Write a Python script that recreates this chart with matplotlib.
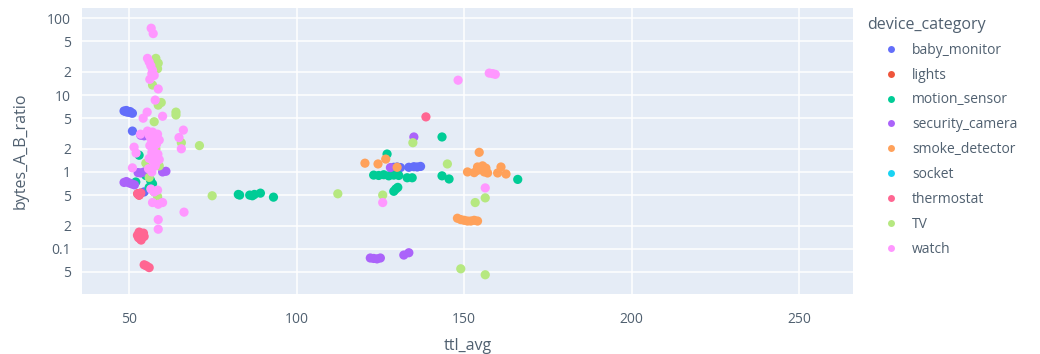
import numpy as np
import matplotlib.pyplot as plt
from matplotlib.lines import Line2D

# puntos (ttl_avg, bytes_A_B_ratio)
categorias = ['baby_monitor', 'lights', 'motion_sensor', 'security_camera',
              'smoke_detector', 'socket', 'thermostat', 'TV', 'watch']
colores = ['#636efa', '#EF553B', '#00cc96', '#ab63fa', '#FFA15A',
           '#19d3f3', '#FF6692', '#B6E880', '#FF97FF']

baby_x = [48.5, 49.0, 49.5, 50.0, 50.5, 51.0, 49.2, 50.3, 51.0, 54.5, 55.5, 56.0,
          129.0, 130.0, 131.0, 133.5, 135.0, 136.0, 137.0]
baby_y = [6.2, 6.1, 6.0, 6.0, 5.9, 5.8, 6.3, 6.1, 3.4, 0.55, 0.9, 1.0,
          1.15, 1.16, 1.14, 1.15, 1.17, 1.16, 1.18]

lights_x = [52.6, 53.0, 53.4]
lights_y = [0.52, 0.5, 0.53]

motion_x = [82.6, 83.0, 86.0, 86.8, 87.4, 89.2, 93.1,
            127.0, 123.0, 124.5, 126.0, 127.5, 129.0, 130.5, 133.0, 134.5,
            129.6, 129.0, 130.2, 143.4, 143.4, 145.5, 166.0,
            53.0, 52.0, 55.0, 55.8, 56.4, 57.0, 56.0, 58.7]
motion_y = [0.51, 0.5, 0.5, 0.49, 0.51, 0.53, 0.47,
            1.71, 0.91, 0.9, 0.92, 0.89, 0.91, 0.9, 0.84, 0.84,
            0.6, 0.56, 0.63, 2.85, 0.89, 0.81, 0.8,
            1.65, 0.74, 0.9, 1.05, 0.78, 0.7, 0.63, 0.43]

camera_x = [48.5, 49.2, 50.0, 50.8, 51.6, 52.7, 53.5, 54.5, 60.0, 61.0,
            53.5, 54.5, 122.0, 123.0, 124.0, 125.0, 132.0, 133.5, 135.0, 128.0]
camera_y = [0.73, 0.75, 0.72, 0.7, 0.68, 0.98, 0.97, 1.0, 1.0, 1.02,
            3.0, 2.95, 0.076, 0.075, 0.074, 0.076, 0.083, 0.089, 2.85, 1.14]

smoke_x = [120.4, 124.3, 126.6, 130.0, 151.0, 153.0, 154.0, 155.0, 156.0, 157.0,
           154.0, 155.5, 156.5, 154.5, 160.0, 161.0, 162.5,
           148.0, 149.0, 150.0, 151.0, 152.0, 153.0, 154.0]
smoke_y = [1.3, 1.27, 1.47, 1.15, 1.0, 0.98, 1.05, 1.1, 1.0, 0.97,
           1.16, 1.2, 1.12, 1.8, 0.97, 1.16, 0.94,
           0.25, 0.24, 0.235, 0.23, 0.23, 0.235, 0.23]

socket_x = [57.0, 57.5]
socket_y = [2.0, 1.8]

thermo_x = [52.5, 53.0, 53.5, 54.0, 54.5, 52.8, 53.3, 53.8, 54.3, 53.0, 53.6,
            54.5, 55.2, 56.0, 138.6, 52.6, 53.0, 53.5]
thermo_y = [0.15, 0.155, 0.16, 0.15, 0.145, 0.14, 0.135, 0.14, 0.16, 0.165, 0.13,
            0.062, 0.06, 0.057, 5.2, 0.52, 0.5, 0.53]

tv_x = [58.0, 58.7, 58.5, 57.0, 58.7, 59.6, 57.5, 64.0, 64.0, 65.6, 71.0, 74.8,
        112.3, 125.7, 134.7, 145.0, 153.3, 156.3, 149.0, 156.3,
        55.0, 57.5, 58.5, 59.0, 56.0, 58.0]
tv_y = [30.0, 26.0, 22.0, 13.5, 7.4, 8.0, 4.5, 6.0, 5.5, 2.4, 2.2, 0.49,
        0.52, 0.5, 2.4, 1.27, 0.4, 0.46, 0.055, 0.046,
        1.3, 0.55, 0.48, 1.2, 0.85, 2.0]

watch_x = [56.6, 57.2, 55.5, 56.0, 56.5, 57.0, 57.5, 56.2, 56.8, 58.7, 57.8, 55.4,
           54.2, 60.0, 53.4, 64.9, 66.2, 65.6, 51.5, 52.1, 51.0,
           55.5, 56.0, 56.5, 57.0, 57.5, 58.0, 58.5, 59.0, 56.2, 57.2, 58.2, 56.8,
           57.6, 58.6, 56.0, 57.0, 58.0, 59.0, 55.8, 56.8, 57.8,
           56.5, 57.5, 58.5, 57.0, 58.7, 60.0, 58.7, 58.7, 66.4,
           148.2, 157.5, 158.5, 159.3, 156.3, 125.7]
watch_y = [74.0, 63.0, 30.0, 27.0, 24.0, 21.0, 18.0, 16.0, 19.0, 12.0, 8.6, 6.0,
           5.0, 5.3, 3.1, 2.8, 3.5, 2.0, 2.1, 1.76, 1.13,
           3.4, 3.0, 2.7, 3.3, 2.5, 2.9, 3.1, 2.6, 2.2, 2.0, 2.3, 1.8,
           1.6, 1.7, 1.5, 1.4, 1.3, 1.45, 1.1, 1.0, 1.2,
           0.6, 0.55, 0.58, 0.4, 0.38, 0.4, 0.24, 0.18, 0.3,
           15.6, 19.3, 19.0, 18.6, 0.62, 0.4]

datos = [(baby_x, baby_y), (lights_x, lights_y), (motion_x, motion_y),
         (camera_x, camera_y), (smoke_x, smoke_y), (socket_x, socket_y),
         (thermo_x, thermo_y), (tv_x, tv_y), (watch_x, watch_y)]

y_ticks = [0.05, 0.1, 0.2, 0.5, 1, 2, 5, 10, 20, 50, 100]
y_labels = ['5', '0.1', '2', '5', '1', '2', '5', '10', '2', '5', '100']
x_ticks = [50, 100, 150, 200, 250]

plt.rcParams['font.family'] = ['Open Sans', 'DejaVu Sans']
gris = '#506070'

fig = plt.figure(figsize=(10.4, 3.54), dpi=100)
ax = fig.add_axes([0.079, 0.17, 0.741, 0.807])
ax.set_facecolor('#E5ECF6')

for (xs, ys), nombre, color in zip(datos, categorias, colores):
    ax.scatter(xs, ys, s=44, color=color, edgecolors='none', label=nombre, zorder=3)

ax.set_yscale('log')
ax.set_xlim(36, 266)
ax.set_ylim(0.026, 135)
ax.yaxis.set_major_locator(plt.FixedLocator(y_ticks))
ax.yaxis.set_major_formatter(plt.FixedFormatter(y_labels))
ax.yaxis.set_minor_locator(plt.NullLocator())
ax.set_xticks(x_ticks)
ax.grid(True, color='white', linewidth=1.1, zorder=0)
ax.set_axisbelow(True)
for s in ax.spines.values():
    s.set_visible(False)
ax.tick_params(axis='x', length=0, labelsize=10, labelcolor=gris, pad=13)
ax.tick_params(axis='y', length=0, labelsize=10, labelcolor=gris, pad=8)

ax.set_xlabel('ttl_avg', fontsize=11.5, color=gris, labelpad=8)
ax.set_ylabel('bytes_A_B_ratio', fontsize=11.5, color=gris, labelpad=13)

handles = [Line2D([], [], ls='none', marker='o', markersize=5, color=c,
                  markeredgewidth=0) for c in colores]
leg = fig.legend(handles, categorias, title='device_category', loc='upper left',
                 bbox_to_anchor=(0.828, 0.968), frameon=False, fontsize=10,
                 title_fontsize=11.5, labelspacing=0.71, handlelength=3.45,
                 handletextpad=-0.2, borderaxespad=0)
leg._legend_box.align = 'left'
for t in leg.get_texts():
    t.set_color(gris)
leg.get_title().set_color(gris)

fig.savefig('out.png', dpi=100)
